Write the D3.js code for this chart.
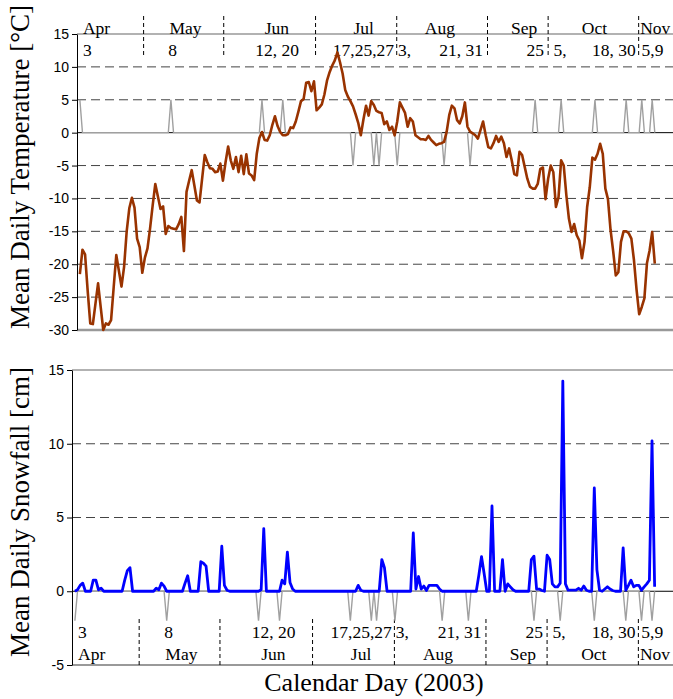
<!DOCTYPE html>
<html>
<head>
<meta charset="utf-8">
<title>Mean daily temperature and snowfall 2003</title>
<script src="https://cdnjs.cloudflare.com/ajax/libs/d3/7.8.5/d3.min.js"></script>
<style>
  body { margin: 0; background: #fff; }
  .serif { font-family: "Liberation Serif", "Times New Roman", serif; fill: #000; }
  .tick text { font-family: "Liberation Sans", Arial, sans-serif; font-size: 14px; fill: #000; }
</style>
</head>
<body>
<svg width="673" height="699"></svg>
<script>
// day numbers count Apr 1 as day 1; the series start on Apr 3
var firstDay = 3;

var temperature = [
  -21.5, -17.8, -18.5, -24, -29, -29.1, -26, -22.9, -26.5, -30,
  -29, -29.2, -28.5, -23.5, -18.6, -21, -23.4, -20.4, -15, -11.5,
  -9.9, -11.4, -16.1, -17.4, -21.3, -19, -17.6, -14.5, -11, -7.8,
  -9.7, -11.6, -11.2, -15.4, -14.2, -14.5, -14.6, -14.7, -13.9, -12.8,
  -18, -9, -7.3, -5.7, -8, -10.3, -10.6, -7, -3.4, -4.5,
  -5.4, -5.5, -6, -5.9, -4.7, -7.3, -4.5, -2.1, -4.2, -5.5,
  -3.7, -6, -3.5, -6.3, -3.3, -6.2, -6.5, -7.2, -3.2, -0.8,
  0.1, -1.1, -1.2, -0.4, 1.2, 2.5, 1, 0.1, -0.4, -0.4,
  -0.2, 0.8, 0.7, 1.7, 3.2, 4.8, 5.1, 7.6, 7.7, 6.3,
  7.8, 3.4, 3.8, 4.3, 5.8, 7.9, 9.2, 10.2, 11, 12.2,
  10.7, 9, 6.5, 5.5, 4.8, 4, 2.8, 1.5, -0.4, 2,
  4.1, 2.6, 4.8, 4.2, 3.3, 3.1, 3, 1.3, 1.7, 0.4,
  0.9, -0.4, 1.7, 4.6, 3.8, 3, 0.9, 2.2, 1.7, -0.4,
  -0.7, -1, -1, -1.1, -0.5, -1.1, -1.5, -1.9, -1.7, -1.6,
  -1.4, 0.15, 2.7, 4.1, 3.7, 1.9, 1.4, 2.5, 4.6, 0.9,
  0.15, -0.1, -0.4, -0.9, 0.4, 1.7, -0.4, -2.2, -2.4, -1.6,
  -0.5, -1.4, -0.6, -1.6, -3.7, -2.4, -4.2, -6.3, -6.5, -2.9,
  -3.4, -5.2, -7, -8.2, -8.5, -8.5, -7.8, -5.5, -5.3, -10.1,
  -7, -5, -6, -11.3, -9.8, -4.2, -5, -9.5, -13.1, -15.1,
  -13.9, -15.6, -16.4, -19.1, -16.6, -11.3, -8.3, -3.8, -4.1, -3.2,
  -1.7, -3.2, -8.5, -10.1, -14.8, -18, -21.7, -21.2, -16.6, -15,
  -15, -15.3, -16.1, -19.4, -23.9, -27.6, -26.5, -25.2, -19.8, -17.9,
  -15.1, -19.9
];

var snowfall = [
  0, 0.1, 0.4, 0.55, 0, 0, 0, 0.75, 0.75, 0.1,
  0.2, 0, 0, 0, 0, 0, 0, 0, 0, 0.75,
  1.4, 1.6, 0, 0, 0, 0, 0, 0, 0, 0,
  0, 0.2, 0.1, 0.55, 0.35, 0, 0, 0, 0, 0,
  0, 0, 0.55, 1.05, 0, 0, 0, 0, 2, 1.9,
  1.7, 0, 0, 0, 0, 0, 3.05, 0.4, 0.07, 0,
  0, 0, 0, 0, 0, 0, 0, 0, 0, 0,
  0, 0.1, 4.25, 0, 0, 0, 0, 0, 0, 0.75,
  0.5, 2.65, 0.6, 0.15, 0, 0, 0, 0, 0, 0,
  0, 0, 0, 0, 0, 0, 0, 0, 0, 0,
  0, 0, 0, 0, 0, 0, 0, 0, 0.4, 0.07,
  0, 0, 0, 0, 0, 0, 0, 2.15, 1.6, 0,
  0, 0, 0, 0, 0, 0, 0, 0, 0, 3.95,
  0.15, 1.0, 0.15, 0.35, 0.05, 0.4, 0.4, 0.4, 0.4, 0.15,
  0, 0, 0, 0, 0, 0, 0, 0, 0, 0,
  0, 0, 0, 0, 1.1, 2.35, 1.2, 0, 0, 5.78,
  0, 0, 0, 2.15, 0, 0.5, 0.3, 0.1, 0, 0,
  0, 0, 0, 0, 2.15, 2.38, 0.15, 0.15, 0.05, 0,
  2.44, 2.15, 0.5, 0.3, 0.3, 0.55, 14.25, 0.5, 0.07, 0.07,
  0.07, 0.07, 0.2, 0.07, 0.35, 0.07, 0, 0, 7, 1.45,
  0.07, 0, 0.15, 0.3, 0.15, 0.05, 0, 0, 0, 2.94,
  0.07, 0.4, 0.75, 0.3, 0.4, 0.4, 0.07, 0.3, 0.5, 0.75,
  10.2, 0.3
];

// marked days: Apr 3, May 8, Jun 12, 20, Jul 17, 25, 27, Aug 3, 21, 31, Sep 25, Oct 5, 18, 30, Nov 5, 9
var eventDays = [3, 38, 73, 81, 108, 116, 118, 125, 143, 153, 178, 188, 201, 213, 219, 223];
var eventSign = [1, 1, 1, 1, -1, -1, -1, -1, -1, -1, 1, 1, 1, 1, 1, 1];

var monthNames = ["Apr", "May", "Jun", "Jul", "Aug", "Sep", "Oct", "Nov"];
var monthAt = [4.2, 43.6, 78.7, 112.1, 141.4, 173.8, 200.8, 218.4];
var monthAnchor = ["start", "middle", "middle", "middle", "middle", "middle", "middle", "start"];

var dateLabels = ["3", "8", "12, 20", "17,25,27", "3,", "21, 31", "25", "5,", "18, 30", "5,9"];
var dateAt = [4.2, 38.7, 78.8, 123.8, 125.3, 158, 181.4, 185.1, 216.7, 218.9];
var dateAnchor = ["start", "middle", "middle", "end", "start", "end", "end", "start", "end", "start"];

var separators = [27.5, 58.3, 93.6, 124.8, 159.7, 183, 217.8];

var tempTicks = [-30, -25, -20, -15, -10, -5, 0, 5, 10, 15];
var snowTicks = [-5, 0, 5, 10, 15];

var svg = d3.select("svg");
var right = 673;

var days = d3.range(firstDay, firstDay + temperature.length);

// ---------- top panel: temperature ----------
var xT = d3.scaleLinear().domain([1.9, 231]).range([77, 673]);
var yT = d3.scaleLinear().domain([-30, 15]).range([330, 34]);

var gTop = svg.append("g");

// dashed grid
gTop.selectAll("line.grid")
  .data(tempTicks.filter(function(d) { return d != 15 && d != 0 && d != -30; }))
  .enter().append("line")
  .attr("x1", 77).attr("x2", right)
  .attr("y1", function(d) { return yT(d); })
  .attr("y2", function(d) { return yT(d); })
  .attr("stroke", "#444").attr("stroke-width", 1)
  .attr("stroke-dasharray", "9,5");

gTop.append("line").attr("x1", 77).attr("x2", right)
  .attr("y1", yT(15)).attr("y2", yT(15))
  .attr("stroke", "#999").attr("stroke-width", 1.5);
gTop.append("line").attr("x1", 77).attr("x2", right)
  .attr("y1", yT(-30)).attr("y2", yT(-30))
  .attr("stroke", "#999").attr("stroke-width", 2.5);
gTop.append("line").attr("x1", 77).attr("x2", right)
  .attr("y1", yT(0)).attr("y2", yT(0))
  .attr("stroke", "#000").attr("stroke-width", 1);

// month separators and labels above the panel
gTop.selectAll("line.sep").data(separators).enter().append("line")
  .attr("x1", function(d) { return xT(d); }).attr("x2", function(d) { return xT(d); })
  .attr("y1", 16).attr("y2", 57)
  .attr("stroke", "#000").attr("stroke-width", 1).attr("stroke-dasharray", "4,3");

gTop.selectAll("text.month").data(monthNames).enter().append("text")
  .attr("class", "serif")
  .attr("x", function(d, i) { return xT(monthAt[i]); })
  .attr("y", 34)
  .attr("text-anchor", function(d, i) { return monthAnchor[i]; })
  .style("font-size", "17.5px")
  .text(function(d) { return d; });

gTop.selectAll("text.date").data(dateLabels).enter().append("text")
  .attr("class", "serif")
  .attr("x", function(d, i) { return xT(dateAt[i]); })
  .attr("y", 56)
  .attr("text-anchor", function(d, i) { return dateAnchor[i]; })
  .style("font-size", "17.5px")
  .text(function(d) { return d; });

// marker series
var markTop = days.map(function(d) {
  var k = eventDays.indexOf(d);
  return k < 0 ? 0 : 5 * eventSign[k];
});
gTop.append("path")
  .datum(markTop)
  .attr("fill", "none").attr("stroke", "#a0a0a0").attr("stroke-width", 1.4)
  .attr("d", d3.line()
    .x(function(v, i) { return xT(days[i]); })
    .y(function(v) { return yT(v); }));

gTop.append("path")
  .datum(temperature)
  .attr("fill", "none").attr("stroke", "#993300").attr("stroke-width", 2.6)
  .attr("stroke-linejoin", "round")
  .attr("d", d3.line()
    .x(function(v, i) { return xT(days[i]); })
    .y(function(v) { return yT(v); }));

gTop.append("g")
  .attr("transform", "translate(77,0)")
  .call(d3.axisLeft(yT).tickValues(tempTicks).tickSize(5).tickSizeOuter(0).tickPadding(3)
    .tickFormat(function(d) { return String(d); }))
  .call(function(g) { g.selectAll("path, line").attr("stroke", "#000"); });

gTop.append("text")
  .attr("class", "serif")
  .attr("transform", "translate(29,167) rotate(-90)")
  .attr("text-anchor", "middle")
  .style("font-size", "27px")
  .text("Mean Daily Temperature [°C]");

// ---------- bottom panel: snowfall ----------
var xS = d3.scaleLinear().domain([1.9, 231]).range([72, 673]);
var yS = d3.scaleLinear().domain([-5, 15]).range([665, 370]);

var gBot = svg.append("g");

gBot.selectAll("line.grid")
  .data([5, 10]).enter().append("line")
  .attr("x1", 72).attr("x2", right)
  .attr("y1", function(d) { return yS(d); })
  .attr("y2", function(d) { return yS(d); })
  .attr("stroke", "#444").attr("stroke-width", 1)
  .attr("stroke-dasharray", "9,5");

gBot.append("line").attr("x1", 72).attr("x2", right)
  .attr("y1", yS(15)).attr("y2", yS(15))
  .attr("stroke", "#999").attr("stroke-width", 1.5);
gBot.append("line").attr("x1", 72).attr("x2", right)
  .attr("y1", yS(-5)).attr("y2", yS(-5))
  .attr("stroke", "#999").attr("stroke-width", 2);
gBot.append("line").attr("x1", 72).attr("x2", right)
  .attr("y1", yS(0)).attr("y2", yS(0))
  .attr("stroke", "#000").attr("stroke-width", 1);

gBot.selectAll("line.sep").data(separators).enter().append("line")
  .attr("x1", function(d) { return xS(d); }).attr("x2", function(d) { return xS(d); })
  .attr("y1", 619).attr("y2", 665)
  .attr("stroke", "#000").attr("stroke-width", 1).attr("stroke-dasharray", "4,3");

gBot.selectAll("text.date").data(dateLabels).enter().append("text")
  .attr("class", "serif")
  .attr("x", function(d, i) { return xS(dateAt[i]); })
  .attr("y", 638)
  .attr("text-anchor", function(d, i) { return dateAnchor[i]; })
  .style("font-size", "17.5px")
  .text(function(d) { return d; });

gBot.selectAll("text.month").data(monthNames).enter().append("text")
  .attr("class", "serif")
  .attr("x", function(d, i) { return xS(monthAt[i]); })
  .attr("y", 660)
  .attr("text-anchor", function(d, i) { return monthAnchor[i]; })
  .style("font-size", "17.5px")
  .text(function(d) { return d; });

var markBot = days.map(function(d) {
  return eventDays.indexOf(d) < 0 ? 0 : -2;
});
gBot.append("path")
  .datum(markBot)
  .attr("fill", "none").attr("stroke", "#a0a0a0").attr("stroke-width", 1.4)
  .attr("d", d3.line()
    .x(function(v, i) { return xS(days[i]); })
    .y(function(v) { return yS(v); }));

gBot.append("path")
  .datum(snowfall)
  .attr("fill", "none").attr("stroke", "#0000ff").attr("stroke-width", 2.8)
  .attr("stroke-linejoin", "round")
  .attr("d", d3.line()
    .x(function(v, i) { return xS(days[i]); })
    .y(function(v) { return yS(v); }));

gBot.append("g")
  .attr("transform", "translate(72,0)")
  .call(d3.axisLeft(yS).tickValues(snowTicks).tickSize(5).tickSizeOuter(0).tickPadding(3)
    .tickFormat(function(d) { return String(d); }))
  .call(function(g) { g.selectAll("path, line").attr("stroke", "#000"); });

gBot.append("text")
  .attr("class", "serif")
  .attr("transform", "translate(29,512) rotate(-90)")
  .attr("text-anchor", "middle")
  .style("font-size", "27px")
  .text("Mean Daily Snowfall [cm]");

svg.append("text")
  .attr("class", "serif")
  .attr("x", 374).attr("y", 691)
  .attr("text-anchor", "middle")
  .style("font-size", "26px")
  .text("Calendar Day (2003)");
</script>
</body>
</html>
